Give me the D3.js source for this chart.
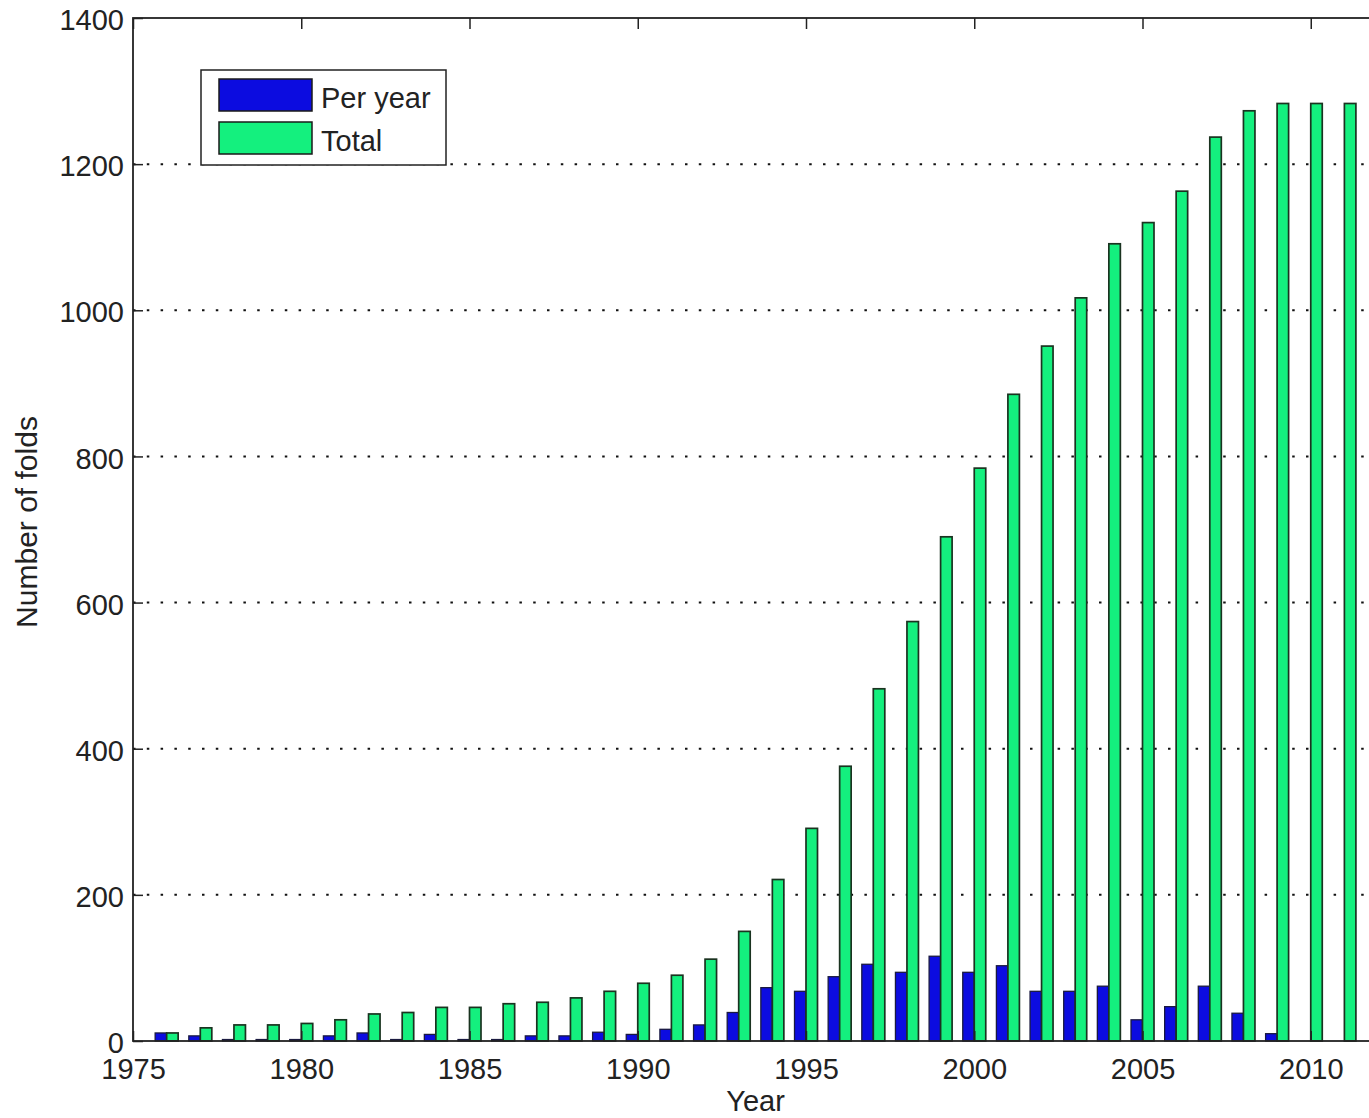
<!DOCTYPE html>
<html>
<head>
<meta charset="utf-8">
<script src="https://cdn.jsdelivr.net/npm/d3@7"></script>
<style>
  html, body { margin: 0; padding: 0; background: #fff; }
  svg { display: block; }
  text { font-family: "Liberation Sans", Arial, sans-serif; fill: #222; }
</style>
</head>
<body>
<svg id="chart" width="1369" height="1118"></svg>
<script>
const years = [1976,1977,1978,1979,1980,1981,1982,1983,1984,1985,1986,1987,1988,1989,1990,1991,1992,1993,1994,1995,1996,1997,1998,1999,2000,2001,2002,2003,2004,2005,2006,2007,2008,2009,2010,2011];
const perYear = [11,7,2,2,2,7,11,2,9,2,2,7,7,12,9,16,22,39,73,68,88,105,94,116,94,103,68,68,75,29,47,75,38,10,0,0];
const total = [11,18,22,22,24,29,37,39,46,46,51,53,59,68,79,90,112,150,221,291,376,482,574,690,784,885,951,1017,1091,1120,1163,1237,1273,1283,1283,1283];
const xTicks = [1975,1980,1985,1990,1995,2000,2005,2010];
const yTicks = [0,200,400,600,800,1000,1200,1400];
const seriesNames = ["Per year","Total"];
const seriesColors = ["#0c0ce0","#14f07e"];

(function () {
const svg = d3.select("#chart");
const pLeft = 133, pTop = 18, pBottom = 1041;
const x = d3.scaleLinear().domain([1975, 2012]).range([pLeft, pLeft + 37*33.65]);
const y = d3.scaleLinear().domain([0, 1400]).range([pBottom, pTop]);
const pRight = x(2012);
const barW = 11.5;

// gridlines (dotted)
svg.append("g").selectAll("line").data(yTicks.filter(d => d > 0 && d < 1400)).join("line")
  .attr("x1", pLeft).attr("x2", pRight)
  .attr("y1", d => y(d)).attr("y2", d => y(d))
  .attr("stroke", "#111").attr("stroke-width", 2)
  .attr("stroke-dasharray", "2.5,11.3");

// bars
const g = svg.append("g");
g.selectAll("rect.py").data(years).join("rect")
  .attr("class", "py")
  .attr("x", (d) => x(d) - barW)
  .attr("width", barW)
  .attr("y", (d, i) => y(perYear[i]))
  .attr("height", (d, i) => y(0) - y(perYear[i]))
  .attr("fill", seriesColors[0])
  .attr("stroke", "#1a1a40").attr("stroke-width", 1.3);
g.selectAll("rect.tot").data(years).join("rect")
  .attr("class", "tot")
  .attr("x", (d) => x(d))
  .attr("width", barW)
  .attr("y", (d, i) => y(total[i]))
  .attr("height", (d, i) => y(0) - y(total[i]))
  .attr("fill", seriesColors[1])
  .attr("stroke", "#1a3320").attr("stroke-width", 1.7);

// axes
const xAxis = d3.axisBottom(x).tickValues(xTicks).tickFormat(d3.format("d")).tickSize(-10).tickPadding(17);
const gx = svg.append("g").attr("transform", `translate(0,${pBottom})`).call(xAxis);
gx.select(".domain").remove();
gx.selectAll(".tick line").attr("stroke", "#222").attr("stroke-width", 1.5);
gx.selectAll("text").attr("font-size", 29).attr("dy", "0.71em").attr("fill", "#222");

const xAxisTop = d3.axisTop(x).tickValues(xTicks).tickFormat("").tickSize(-11);
const gxt = svg.append("g").attr("transform", `translate(0,${pTop})`).call(xAxisTop);
gxt.select(".domain").remove();
gxt.selectAll(".tick line").attr("stroke", "#222").attr("stroke-width", 1.5);

const yAxis = d3.axisLeft(y).tickValues(yTicks).tickFormat(d3.format("d")).tickSize(-10).tickPadding(9);
const gy = svg.append("g").attr("transform", `translate(${pLeft},0)`).call(yAxis);
gy.select(".domain").remove();
gy.selectAll(".tick line").attr("stroke", "#222").attr("stroke-width", 1.5);
gy.selectAll("text").attr("font-size", 29).attr("dy", "0.4em").attr("fill", "#222");

// frame
svg.append("rect").attr("x", pLeft).attr("y", pTop).attr("width", pRight - pLeft).attr("height", pBottom - pTop)
  .attr("fill", "none").attr("stroke", "#222").attr("stroke-width", 1.8);

// axis labels
svg.append("text").attr("x", (pLeft + pRight)/2).attr("y", 1111).attr("text-anchor", "middle")
  .attr("font-size", 29).text("Year");
svg.append("text").attr("transform", `translate(37,522) rotate(-90)`)
  .attr("text-anchor", "middle").attr("font-size", 30).text("Number of folds");

// legend
const lg = svg.append("g");
lg.append("rect").attr("x", 201).attr("y", 70).attr("width", 245).attr("height", 95)
  .attr("fill", "#fff").attr("stroke", "#222").attr("stroke-width", 1.5);
seriesNames.forEach((name, i) => {
  lg.append("rect").attr("x", 219).attr("y", 79 + i*43).attr("width", 93).attr("height", 32)
    .attr("fill", seriesColors[i]).attr("stroke", "#1a1a1a").attr("stroke-width", 1.5);
  lg.append("text").attr("x", 321).attr("y", 108 + i*43).attr("font-size", 29).text(name);
});
})();
</script>
</body>
</html>
